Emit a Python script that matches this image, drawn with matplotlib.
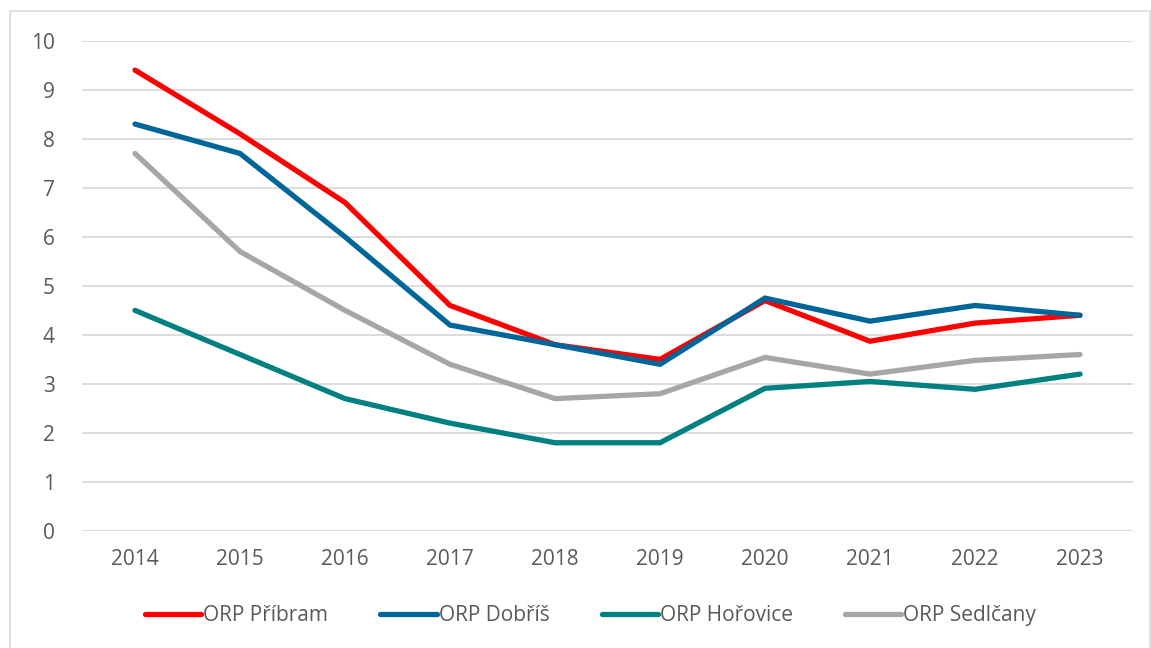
import matplotlib
matplotlib.use("Agg")
import matplotlib.pyplot as plt
from matplotlib.patches import Rectangle

plt.rcParams['font.family'] = ['Open Sans', 'DejaVu Sans']

years = ['2014', '2015', '2016', '2017', '2018', '2019', '2020', '2021', '2022', '2023']

pribram = [9.4, 8.1, 6.7, 4.6, 3.8, 3.5, 4.7, 3.87, 4.24, 4.4]
dobris = [8.3, 7.7, 6.0, 4.2, 3.8, 3.4, 4.75, 4.28, 4.6, 4.4]
horovice = [4.5, 3.6, 2.7, 2.2, 1.8, 1.8, 2.91, 3.05, 2.89, 3.2]
sedlcany = [7.7, 5.7, 4.5, 3.4, 2.7, 2.8, 3.54, 3.2, 3.48, 3.6]

series = [
  ('ORP Příbram', pribram, '#FF0000'),
  ('ORP Dobříš', dobris, '#006699'),
  ('ORP Hořovice', horovice, '#008080'),
  ('ORP Sedlčany', sedlcany, '#A6A6A6'),
]

W, H = 1151, 648
fig = plt.figure(figsize=(W/100, H/100), dpi=100)

# light chart border
fig.patches.append(Rectangle((10/W, -0.05), 1140/W, 1.05 - 11/H, transform=fig.transFigure,
                             fill=False, edgecolor='#D9D9D9', linewidth=1.2))

ax = fig.add_axes([82.5/W, 1 - 531/H, 1050/W, (531 - 40.7)/H])
x = list(range(len(years)))
for name, vals, col in series:
  ax.plot(x, vals, color=col, linewidth=3.8, solid_capstyle='round', solid_joinstyle='miter', label=name)

ax.set_xlim(-0.5, len(years) - 0.5)
ax.set_ylim(0, 10)
ax.set_yticks(range(0, 11))
ax.set_xticks(x)
ax.set_xticklabels(years)
ax.grid(axis='y', color='#D9D9D9', linewidth=1.3)
ax.set_axisbelow(True)
for s in ax.spines.values():
  s.set_visible(False)
ax.tick_params(length=0, labelsize=15, labelcolor='#595959')
ax.tick_params(axis='x', pad=13)
ax.tick_params(axis='y', pad=20)

ax.legend(loc='center', bbox_to_anchor=(0.484, -0.172), ncol=4, frameon=False,
          fontsize=15, labelcolor='#595959', handlelength=2.7, handletextpad=0.1,
          columnspacing=2.5)

fig.savefig('out.png', dpi=100)
